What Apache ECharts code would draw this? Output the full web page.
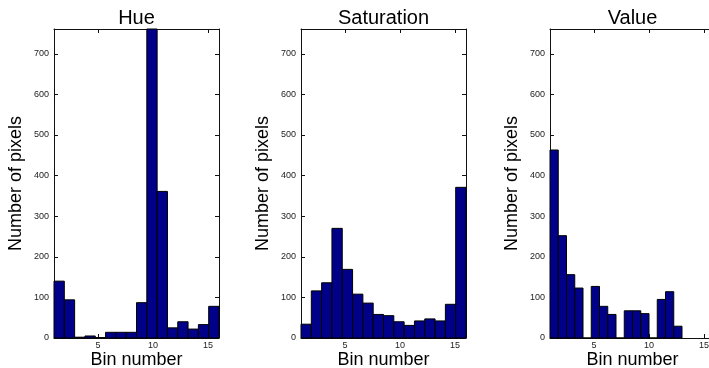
<!DOCTYPE html>
<html>
<head>
<meta charset="utf-8">
<script src="https://cdn.jsdelivr.net/npm/echarts@6/dist/echarts.min.js"></script>
<style>
html,body{margin:0;padding:0;background:#fff;}
#chart{width:709px;height:368px;}
</style>
</head>
<body>
<div id="chart"></div>
<script>
// ---- Data ----
const panelTitles = ['Hue', 'Saturation', 'Value'];
const hueCounts = [140, 94, 2, 5, 1, 14, 14, 14, 87, 761, 361, 25, 40, 22, 33, 78];
const satCounts = [34, 116, 136, 270, 169, 108, 86, 58, 55, 40, 31, 42, 47, 42, 83, 371];
const valCounts = [463, 252, 156, 123, 0, 127, 78, 58, 0, 67, 67, 60, 0, 95, 114, 29];
const hueRange = [1, 16];
const satRange = [1, 16];
const valRange = [1, 13];
const xTicks = [5, 10, 15];
const yTicks = [0, 100, 200, 300, 400, 500, 600, 700];
const xLabel = 'Bin number';
const yLabel = 'Number of pixels';
const xMin = 1, xMax = 16, yMin = 0, yMax = 761;

function toBins(counts, range) {
  const n = counts.length;
  const w = (range[1] - range[0]) / n;
  return counts.map((c, i) => [range[0] + i * w, range[0] + (i + 1) * w, c]);
}
const panels = [
  toBins(hueCounts, hueRange),
  toBins(satCounts, satRange),
  toBins(valCounts, valRange)
];

// ---- Layout ----
const gridLefts = [54, 301, 550];
const gridW = 165, gridTop = 29, gridH = 309;
const FONT = 'Liberation Sans, Arial, sans-serif';
const axisColor = '#111';
const tickColor = '#222';

const grids = [], xAxes = [], yAxes = [], series = [];
panels.forEach((bins, k) => {
  grids.push({left: gridLefts[k], top: gridTop, width: gridW, height: gridH,
    containLabel: false, outerBoundsMode: 'none'});
  const common = {type: 'value', gridIndex: k, splitLine: {show: false}, nameMoveOverlap: false,
    axisLine: {show: true, onZero: false, lineStyle: {color: axisColor, width: 1}}};
  // bottom x
  xAxes.push(Object.assign({}, common, {
    position: 'bottom', min: xMin, max: xMax,
    name: xLabel, nameLocation: 'middle', nameGap: 13,
    nameTextStyle: {fontFamily: FONT, fontSize: 18, color: '#000'},
    axisTick: {show: true, inside: true, length: 4, customValues: xTicks, lineStyle: {color: axisColor}},
    axisLabel: {show: true, customValues: xTicks, margin: 3, fontFamily: FONT, fontSize: 9, color: tickColor}
  }));
  // top x (frame + title)
  xAxes.push(Object.assign({}, common, {
    position: 'top', min: xMin, max: xMax,
    name: panelTitles[k], nameLocation: 'middle', nameGap: 1,
    nameTextStyle: {fontFamily: FONT, fontSize: 20, color: '#000', verticalAlign: 'bottom'},
    axisTick: {show: true, inside: true, length: 4, customValues: xTicks, lineStyle: {color: axisColor}},
    axisLabel: {show: false}
  }));
  // left y
  yAxes.push(Object.assign({}, common, {
    position: 'left', min: yMin, max: yMax,
    name: yLabel, nameLocation: 'middle', nameGap: 29,
    nameTextStyle: {fontFamily: FONT, fontSize: 18, color: '#000'},
    axisTick: {show: true, inside: true, length: 4, customValues: yTicks, lineStyle: {color: axisColor}},
    axisLabel: {show: true, customValues: yTicks, margin: 5, fontFamily: FONT, fontSize: 9, color: tickColor}
  }));
  // right y (frame)
  yAxes.push(Object.assign({}, common, {
    position: 'right', min: yMin, max: yMax,
    axisTick: {show: true, inside: true, length: 4, customValues: yTicks, lineStyle: {color: axisColor}},
    axisLabel: {show: false}
  }));
  series.push({
    type: 'custom',
    xAxisIndex: 2 * k,
    yAxisIndex: 2 * k,
    data: bins,
    encode: {x: [0, 1], y: 2},
    renderItem: function (params, api) {
      const p0 = api.coord([api.value(0), api.value(2)]);
      const p1 = api.coord([api.value(1), 0]);
      return {
        type: 'rect',
        shape: {x: p0[0], y: p0[1], width: p1[0] - p0[0], height: p1[1] - p0[1]},
        style: {fill: '#000088', stroke: '#000', lineWidth: 1}
      };
    }
  });
});

const chart = echarts.init(document.getElementById('chart'), null, {renderer: 'canvas'});
chart.setOption({
  animation: false,
  backgroundColor: '#fff',
  grid: grids,
  xAxis: xAxes,
  yAxis: yAxes,
  series: series
});
</script>
</body>
</html>
